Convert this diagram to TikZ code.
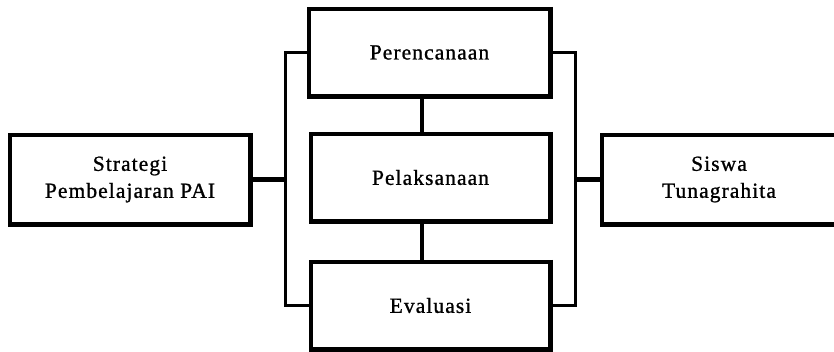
\documentclass[tikz,border=0pt]{standalone}
\usepackage{fontspec}
\setmainfont{Liberation Serif}[LetterSpace=5, FakeBold=1]
\begin{document}
\begin{tikzpicture}[x=1pt,y=-1pt,
  box/.style={draw=black, fill=white, line width=4pt, outer sep=0pt, inner sep=0pt,
              align=center, font=\fontsize{21.5}{27}\selectfont},
  bracket/.style={draw=black, line width=3pt},
  link/.style={draw=black, line width=4pt},
  feed/.style={draw=black, line width=5pt}]
\useasboundingbox (0,0) rectangle (834,352);
\fill[white] (0,0) rectangle (834,352);

% boxes
\node[box, minimum width=240pt, minimum height=89pt] (A) at (130,179.5) {Strategi\\Pembelajaran PAI};
\node[box, minimum width=241pt, minimum height=87pt] (P) at (429.5,52.5) {Perencanaan};
\node[box, minimum width=239pt, minimum height=87pt] (L) at (430.5,177.5) {Pelaksanaan};
\node[box, minimum width=239pt, minimum height=87pt] (E) at (430.5,305.5) {Evaluasi};
\node[box, minimum width=234pt, minimum height=89pt] (S) at (719,179.5) {Siswa\\Tunagrahita};

% heavier lower and right edges
\foreach \n in {A,P,L,E,S}{
  \draw[black, line width=1.5pt]
    ([xshift=2.5pt,yshift=2pt]\n.north east) -- ([xshift=2.5pt,yshift=-2.5pt]\n.south east)
    -- ([xshift=-2pt,yshift=-2.5pt]\n.south west);
}

% bracket rails
\coordinate (lx) at (285,0);
\coordinate (rx) at (575,0);
\coordinate (mx) at (422,0);

\draw[bracket] (P.west) -| (lx |- E.west) -- (E.west);
\draw[bracket] (P.east) -| (rx |- E.east) -- (E.east);
\draw[feed] (A.east) -- (A.east -| lx);
\draw[feed] (S.west) -- (S.west -| rx);

% chain between stages
\draw[link] (mx |- P.south) -- (mx |- L.north);
\draw[link] (mx |- L.south) -- (mx |- E.north);
\end{tikzpicture}
\end{document}
